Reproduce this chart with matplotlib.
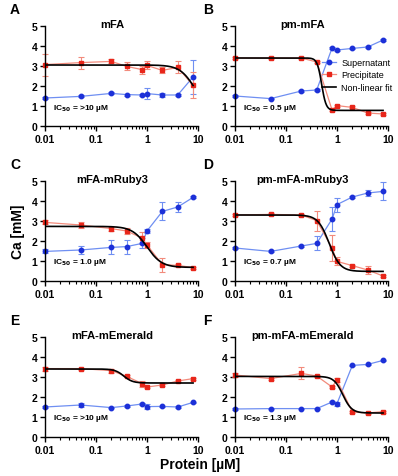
import numpy as np
import matplotlib
matplotlib.use("Agg")
import matplotlib.pyplot as plt
from matplotlib.lines import Line2D

plt.rcParams['font.family'] = ['Liberation Sans', 'DejaVu Sans']
plt.rcParams['font.weight'] = 'bold'

# protein concentrations (uM)
conc = [0.01, 0.05, 0.2, 0.4, 0.8, 1, 2, 4, 8]

titles = ['mFA', 'pm-mFA', 'mFA-mRuby3', 'pm-mFA-mRuby3', 'mFA-mEmerald', 'pm-mFA-mEmerald']
letters = ['A', 'B', 'C', 'D', 'E', 'F']
ic50_text = ['>10', '0.5', '1.0', '0.7', '>10', '1.3']

# supernatant Ca (mM) and error
sup = [
    [1.40, 1.48, 1.63, 1.57, 1.55, 1.62, 1.55, 1.55, 2.45],
    [1.50, 1.37, 1.75, 1.80, 3.90, 3.80, 3.88, 3.95, 4.30],
    [1.48, 1.55, 1.68, 1.72, 1.88, 2.50, 3.48, 3.70, 4.18],
    [1.65, 1.48, 1.75, 1.88, 3.10, 3.82, 4.20, 4.40, 4.48],
    [1.50, 1.60, 1.47, 1.55, 1.65, 1.52, 1.53, 1.50, 1.73],
    [1.40, 1.42, 1.42, 1.42, 1.75, 1.67, 3.58, 3.63, 3.83],
]
sup_err = [
    [0.03, 0.05, 0.05, 0.05, 0.05, 0.28, 0.10, 0.05, 0.85],
    [0.03, 0.03, 0.03, 0.03, 0.03, 0.03, 0.03, 0.03, 0.03],
    [0.10, 0.20, 0.35, 0.35, 0.25, 0.10, 0.45, 0.25, 0.05],
    [0.05, 0.05, 0.05, 0.35, 0.60, 0.35, 0.05, 0.15, 0.45],
    [0.05, 0.10, 0.03, 0.03, 0.03, 0.12, 0.03, 0.03, 0.03],
    [0.03, 0.03, 0.03, 0.03, 0.05, 0.10, 0.03, 0.03, 0.03],
]
# precipitate Ca (mM) and error
prec = [
    [3.07, 3.17, 3.23, 2.98, 2.82, 3.03, 2.78, 2.93, 2.03],
    [3.40, 3.40, 3.40, 3.20, 0.80, 1.02, 0.93, 0.65, 0.60],
    [2.93, 2.80, 2.62, 2.50, 2.15, 1.80, 0.82, 0.78, 0.67],
    [3.30, 3.33, 3.30, 3.02, 1.65, 0.98, 0.77, 0.55, 0.25],
    [3.42, 3.42, 3.32, 3.03, 2.67, 2.50, 2.60, 2.80, 2.92],
    [3.10, 2.92, 3.18, 3.05, 2.50, 2.85, 1.25, 1.20, 1.27],
]
prec_err = [
    [0.55, 0.30, 0.10, 0.20, 0.20, 0.20, 0.15, 0.30, 0.65],
    [0.03, 0.03, 0.03, 0.05, 0.05, 0.05, 0.05, 0.05, 0.05],
    [0.10, 0.15, 0.10, 0.15, 0.30, 0.15, 0.35, 0.05, 0.05],
    [0.05, 0.05, 0.05, 0.50, 0.65, 0.20, 0.05, 0.20, 0.05],
    [0.10, 0.05, 0.10, 0.05, 0.15, 0.05, 0.05, 0.05, 0.05],
    [0.10, 0.05, 0.30, 0.05, 0.05, 0.10, 0.05, 0.05, 0.05],
]
# fit parameters: top, bottom, ic50, hill
fit_top = [3.05, 3.40, 2.73, 3.30, 3.40, 3.03]
fit_bottom = [0.80, 0.78, 0.68, 0.48, 2.70, 1.20]
fit_ic50 = [8.5, 0.5, 1.0, 0.7, 0.35, 1.3]
fit_hill = [3, 10, 3, 4, 5, 5]

blue_dark = '#1c30d8'
blue_light = '#6f8ff2'
red_dark = '#e8261a'
red_light = '#f28b7c'

fig = plt.figure(figsize=(3.98, 4.77), dpi=100)
W, H = 398, 477
col_x = [45, 235]
row_top = [27, 182, 338]
ax_w, ax_h = 153, 100

xx = np.logspace(-2, np.log10(8), 300)

for i in range(6):
    r, c = i // 2, i % 2
    ax = fig.add_axes([col_x[c] / W, 1 - (row_top[r] + ax_h) / H, ax_w / W, ax_h / H])
    ax.set_xscale('log')

    eb1 = ax.errorbar(conc, sup[i], yerr=sup_err[i], fmt='-o', color=blue_light, mfc=blue_dark,
                      mec=blue_dark, ms=3.2, lw=0.9, elinewidth=0.8, capsize=2, capthick=0.8,
                      zorder=2)
    eb2 = ax.errorbar(conc, prec[i], yerr=prec_err[i], fmt='-s', color=red_light, mfc=red_dark,
                      mec=red_dark, ms=3.2, lw=0.9, elinewidth=0.8, capsize=2, capthick=0.8,
                      zorder=2)
    for eb in (eb1, eb2):
        for art in eb.lines[0:1] + eb.lines[1] + eb.lines[2]:
            art.set_clip_on(False)

    yy = fit_bottom[i] + (fit_top[i] - fit_bottom[i]) / (1 + (xx / fit_ic50[i]) ** fit_hill[i])
    ax.plot(xx, yy, color='black', lw=1.2, zorder=4)

    ax.set_xlim(0.01, 10)
    ax.set_ylim(0, 5)
    ax.set_yticks([0, 1, 2, 3, 4, 5])
    ax.set_xticks([0.01, 0.1, 1, 10])
    ax.set_xticklabels(['0.01', '0.1', '1', '10'])
    for s in ['top', 'right']:
        ax.spines[s].set_visible(False)
    for s in ['left', 'bottom']:
        ax.spines[s].set_linewidth(1.0)
    ax.tick_params(axis='both', which='major', length=3.5, width=1.0, labelsize=7.5, pad=2)
    ax.tick_params(axis='x', which='minor', length=2, width=0.8)
    for lab in ax.get_xticklabels() + ax.get_yticklabels():
        lab.set_fontweight('bold')

    ax.text(0.44, 1.02, titles[i], transform=ax.transAxes, ha='center', va='center',
            fontsize=8, fontweight='bold')
    ax.text(0.05, 0.19, 'IC$_{\\mathbf{50}}$ = ' + ic50_text[i] + ' µM', transform=ax.transAxes,
            ha='left', va='center', fontsize=6, fontweight='bold')

    fig.text((10 if c == 0 else 203) / W, 1 - (10 + row_top[r] - 27) / H, letters[i],
             ha='left', va='center', fontsize=10, fontweight='bold')

    if i == 1:
        handles = [
            Line2D([], [], color=blue_light, lw=0.9, marker='o', mfc=blue_dark, mec=blue_dark, ms=3.2),
            Line2D([], [], color=red_light, lw=0.9, marker='s', mfc=red_dark, mec=red_dark, ms=3.2),
            Line2D([], [], color='black', lw=1.2),
        ]
        ax.legend(handles, ['Supernatant', 'Precipitate', 'Non-linear fit'],
                  loc='center left', bbox_to_anchor=(0.56, 0.51), frameon=False,
                  handlelength=1.6, labelspacing=0.4, handletextpad=0.6, borderpad=0.1,
                  borderaxespad=0, prop={'size': 6.5, 'weight': 'normal'})

fig.text(18 / W, 1 - 232 / H, 'Ca [mM]', rotation=90, ha='center', va='center',
         fontsize=10, fontweight='bold')
fig.text(200 / W, 1 - 465 / H, 'Protein [µM]', ha='center', va='center',
         fontsize=10, fontweight='bold')

fig.savefig('out.png', dpi=100)
